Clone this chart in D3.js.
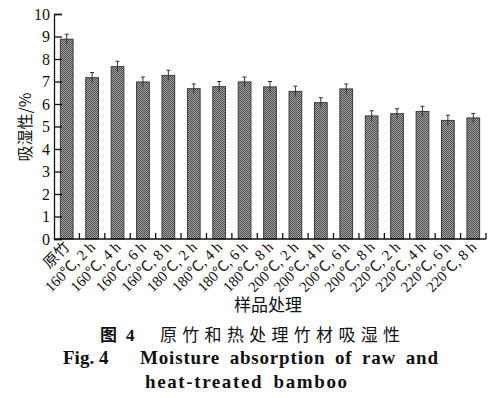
<!DOCTYPE html>
<html lang="zh">
<head>
    <meta charset="UTF-8">
    <title>原竹和热处理竹材吸湿性</title>
    <style>
        body {
            margin: 0;
            background: #fff;
        }
        text {
            fill: #111;
        }
    </style>
    <script src="https://cdn.jsdelivr.net/npm/d3@7"></script>
</head>
<body>
    <script>
        // Canvas
        const width = 500;
        const height = 398;

        // Data
        const categories = ["原竹", "160℃, 2 h", "160℃, 4 h", "160℃, 6 h", "160℃, 8 h",
            "180℃, 2 h", "180℃, 4 h", "180℃, 6 h", "180℃, 8 h",
            "200℃, 2 h", "200℃, 4 h", "200℃, 6 h", "200℃, 8 h",
            "220℃, 2 h", "220℃, 4 h", "220℃, 6 h", "220℃, 8 h"];
        const moisture = [8.88, 7.17, 7.66, 6.98, 7.27, 6.68, 6.77, 6.98, 6.76, 6.56, 6.06, 6.67, 5.47, 5.57, 5.67, 5.27, 5.38];
        const errors = [0.22, 0.23, 0.24, 0.22, 0.23, 0.21, 0.23, 0.22, 0.24, 0.23, 0.22, 0.22, 0.23, 0.22, 0.23, 0.23, 0.2];
        const yTicks = [0, 1, 2, 3, 4, 5, 6, 7, 8, 9, 10];

        const serif = "'Liberation Serif', 'Noto Sans CJK SC', serif";
        const cjk = "'Noto Sans CJK SC', sans-serif";

        const svg = d3.select("body").append("svg").attr("width", width).attr("height", height);

        // checker texture for the bars
        const pat = svg.append("defs").append("pattern")
            .attr("id", "checker")
            .attr("width", 2).attr("height", 2)
            .attr("patternUnits", "userSpaceOnUse");
        pat.append("rect").attr("width", 2).attr("height", 2).attr("fill", "#a0a0a0");
        pat.append("rect").attr("width", 1).attr("height", 1).attr("fill", "#505050");
        pat.append("rect").attr("x", 1).attr("y", 1).attr("width", 1).attr("height", 1).attr("fill", "#505050");

        // Scales
        const x = d3.scaleBand().domain(categories).range([54, 486]).paddingInner(0.5).paddingOuter(0.25);
        const y = d3.scaleLinear().domain([0, 10]).range([239, 14]);

        // Bars
        svg.selectAll("rect.bar")
            .data(moisture)
            .join("rect")
            .attr("class", "bar")
            .attr("x", (d, i) => x(categories[i]))
            .attr("y", d => y(d))
            .attr("width", x.bandwidth())
            .attr("height", d => y(0) - y(d))
            .attr("fill", "url(#checker)")
            .attr("stroke", "#3a3a3a")
            .attr("stroke-width", 1);

        // Error bars
        const eb = svg.selectAll("g.err")
            .data(moisture)
            .join("g")
            .attr("class", "err")
            .attr("transform", (d, i) => `translate(${x(categories[i]) + x.bandwidth() / 2},0)`)
            .attr("stroke", "#333")
            .attr("stroke-width", 1);
        eb.append("line")
            .attr("y1", (d, i) => y(d - errors[i]))
            .attr("y2", (d, i) => y(d + errors[i]));
        eb.append("line")
            .attr("x1", -2).attr("x2", 2)
            .attr("y1", (d, i) => y(d + errors[i]))
            .attr("y2", (d, i) => y(d + errors[i]));

        // Y axis
        const yAxis = svg.append("g")
            .attr("transform", "translate(54,0)")
            .call(d3.axisLeft(y).tickValues(yTicks).tickSize(-8).tickPadding(5));
        yAxis.select(".domain").attr("stroke", "#111").attr("stroke-width", 1.3);
        yAxis.selectAll(".tick line").attr("stroke", "#111").attr("stroke-width", 1.3);
        yAxis.selectAll(".tick text")
            .attr("x", -4)
            .style("font-family", serif)
            .style("font-size", "16px")
            .attr("fill", "#111");

        // X axis line + boundary ticks
        svg.append("line")
            .attr("x1", 54).attr("x2", 486)
            .attr("y1", y(0)).attr("y2", y(0))
            .attr("stroke", "#111").attr("stroke-width", 1.3);
        svg.selectAll("line.xtick")
            .data(categories)
            .join("line")
            .attr("class", "xtick")
            .attr("x1", d => x(d) + x.bandwidth() / 2 + x.step() / 2)
            .attr("x2", d => x(d) + x.bandwidth() / 2 + x.step() / 2)
            .attr("y1", y(0)).attr("y2", y(0) - 6)
            .attr("stroke", "#111").attr("stroke-width", 1.3);

        // Category labels
        svg.selectAll("text.xlab")
            .data(categories)
            .join("text")
            .attr("class", "xlab")
            .attr("transform", d => `translate(${x(d) + x.bandwidth() / 2 + 4},248) rotate(-45)`)
            .attr("text-anchor", "end")
            .style("font-family", serif)
            .style("font-size", "15px")
            .text(d => d);

        // Axis titles
        svg.append("text")
            .attr("transform", "translate(31,127) rotate(-90)")
            .attr("text-anchor", "middle")
            .style("font-family", cjk)
            .style("font-size", "16px")
            .text("吸湿性/%");

        svg.append("text")
            .attr("x", 268).attr("y", 311)
            .attr("text-anchor", "middle")
            .style("font-family", cjk)
            .style("font-size", "17px")
            .text("样品处理");

        // Caption
        svg.append("text").attr("x", 100).attr("y", 341)
            .style("font-family", cjk).style("font-weight", "bold").style("font-size", "17px")
            .text("图");
        svg.append("text").attr("x", 126).attr("y", 341)
            .style("font-family", serif).style("font-weight", "bold").style("font-size", "17px")
            .text("4");
        svg.append("text").attr("x", 160).attr("y", 341)
            .attr("textLength", 240).attr("lengthAdjust", "spacing")
            .style("font-family", cjk).style("font-size", "17px")
            .text("原竹和热处理竹材吸湿性");

        svg.append("text")
            .attr("x", 63).attr("y", 364)
            .style("font-family", serif).style("font-weight", "bold").style("font-size", "19px")
            .text("Fig. 4");
        svg.append("text")
            .attr("x", 140).attr("y", 364)
            .attr("textLength", 298).attr("lengthAdjust", "spacing")
            .style("font-family", serif).style("font-weight", "bold").style("font-size", "19px")
            .style("word-spacing", "4px")
            .text("Moisture absorption of raw and");

        svg.append("text")
            .attr("x", 145).attr("y", 388)
            .attr("textLength", 202).attr("lengthAdjust", "spacing")
            .style("font-family", serif).style("font-weight", "bold").style("font-size", "19px")
            .style("word-spacing", "4px")
            .text("heat-treated bamboo");
    </script>
</body>
</html>
